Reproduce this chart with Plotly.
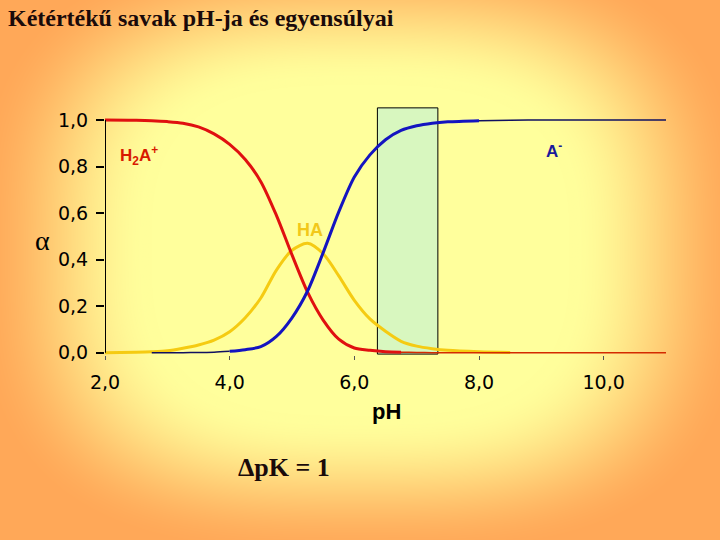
import plotly.graph_objects as go
import numpy as np
import zlib, struct, base64

# ---- data ----
ph = [2.0, 2.5, 2.75, 3.0, 3.25, 3.5, 3.75, 4.0, 4.25, 4.5, 4.75, 5.0, 5.25, 5.5,
      5.75, 6.0, 6.25, 6.5, 6.75, 7.0, 7.25, 7.5, 8.0, 8.5, 9.0, 10.0, 11.0]
alpha_h2a = [1.0, 0.999, 0.997, 0.993, 0.986, 0.97, 0.94, 0.895, 0.83, 0.735, 0.59, 0.42,
             0.26, 0.14, 0.058, 0.02, 0.01, 0.004, 0.002, 0.001, 0.0, 0.0, 0.0, 0.0,
             0.0, 0.0, 0.0]
alpha_ha = [0.0, 0.002, 0.004, 0.008, 0.019, 0.033, 0.054, 0.09, 0.15, 0.235, 0.355, 0.44,
            0.47, 0.425, 0.33, 0.225, 0.145, 0.092, 0.049, 0.028, 0.017, 0.01, 0.004,
            0.001, 0.0, 0.0, 0.0]
alpha_a = [0.0, 0.0, 0.0, 0.0, 0.0, 0.001, 0.002, 0.006, 0.013, 0.026, 0.07, 0.15,
           0.265, 0.43, 0.605, 0.755, 0.85, 0.915, 0.955, 0.975, 0.986, 0.992, 0.997,
           0.999, 1.0, 1.0, 1.0]
x_ticks = [2, 4, 6, 8, 10]
x_ticktext = ["2,0", "4,0", "6,0", "8,0", "10,0"]
y_ticks = [0, 0.2, 0.4, 0.6, 0.8, 1.0]
y_ticktext = ["0,0", "0,2", "0,4", "0,6", "0,8", "1,0"]
buffer_zone = [6.37, 7.34]   # highlighted pH interval

W, H = 720, 540
L, R, T, B = 105, 54, 106, 185
PW, PH_ = W - L - R, H - T - B


def px(x):
    return (x - L) / PW


def py(y):
    return (H - B - y) / PH_


# ---- background gradient (yellow centre -> orange edges) ----
yy, xx = np.mgrid[0:H, 0:W].astype(float)
d = ((np.abs(xx - 360) / 360) ** 3 + (np.abs(yy - 250) / 285) ** 3) ** (1 / 3)
t = np.clip((d - 0.58) / 0.5, 0, 1)
t = t * t * (3 - 2 * t)
c0 = np.array([255, 255, 156], float)
c1 = np.array([255, 168, 88], float)
img = (c0[None, None, :] * (1 - t[..., None]) + c1[None, None, :] * t[..., None]).astype(np.uint8)
raw = b"".join(b"\x00" + img[r].tobytes() for r in range(H))


def chunk(tag, data):
    return struct.pack(">I", len(data)) + tag + data + struct.pack(">I", zlib.crc32(tag + data) & 0xffffffff)


png = (b"\x89PNG\r\n\x1a\n" + chunk(b"IHDR", struct.pack(">IIBBBBB", W, H, 8, 2, 0, 0, 0))
       + chunk(b"IDAT", zlib.compress(raw, 9)) + chunk(b"IEND", b""))
bg_uri = "data:image/png;base64," + base64.b64encode(png).decode()

ph_arr = np.array(ph)


def part(vals, lo, hi):
    m = (ph_arr >= lo) & (ph_arr <= hi)
    return ph_arr[m].tolist(), np.array(vals)[m].tolist()


fig = go.Figure()
line_kw = dict(mode="lines", line_shape="spline", hoverinfo="skip", showlegend=False)

# yellow HA
x, y = part(alpha_ha, 2.0, 8.5)
fig.add_trace(go.Scatter(x=x, y=y, line=dict(color="#F5CB12", width=3, smoothing=0.8), **line_kw))
# red H2A+
x, y = part(alpha_h2a, 6.5, 11.0)
fig.add_trace(go.Scatter(x=x, y=y, line=dict(color="#D42A00", width=1.5, smoothing=0.8), **line_kw))
x, y = part(alpha_h2a, 2.0, 6.75)
fig.add_trace(go.Scatter(x=x, y=y, line=dict(color="#E01010", width=3, smoothing=0.8), **line_kw))
# blue A-
x, y = part(alpha_a, 2.75, 4.0)
fig.add_trace(go.Scatter(x=x, y=y, line=dict(color="#101060", width=1.5, smoothing=0.8), **line_kw))
x, y = part(alpha_a, 8.0, 11.0)
fig.add_trace(go.Scatter(x=x, y=y, line=dict(color="#101060", width=1.5, smoothing=0.8), **line_kw))
x, y = part(alpha_a, 4.0, 8.0)
fig.add_trace(go.Scatter(x=x, y=y, line=dict(color="#1414C0", width=3, smoothing=0.8), **line_kw))

fig.add_shape(type="rect", xref="x", yref="y", x0=buffer_zone[0], x1=buffer_zone[1],
              y0=-0.006, y1=1.052, fillcolor="rgba(190,242,215,0.6)",
              line=dict(color="black", width=1), layer="below")
# y axis line from 0 to 1
fig.add_shape(type="line", xref="x", yref="y", x0=2.0, x1=2.0, y0=0, y1=1,
              line=dict(color="black", width=2), layer="above")

fig.add_layout_image(dict(source=bg_uri, xref="paper", yref="paper", x=px(0), y=py(0),
                          sizex=W / PW, sizey=H / PH_, xanchor="left", yanchor="top",
                          sizing="stretch", layer="below"))

ann = [
    dict(text="<b>Kétértékű savak pH-ja és egyensúlyai</b>", x=px(6), y=py(18), xanchor="left",
         font=dict(family="Liberation Serif", size=24, color="#1A0A0A")),
    dict(text="<b>ΔpK = 1</b>", x=px(284), y=py(468), xanchor="center",
         font=dict(family="Liberation Serif", size=26, color="#1A0A0A")),
    dict(text="α", x=px(42), y=py(240), xanchor="center",
         font=dict(family="Liberation Serif", size=28, color="black")),
    dict(text="<b>pH</b>", x=px(386), y=py(411), xanchor="center",
         font=dict(family="Liberation Sans", size=22, color="black")),
    dict(text="<b>H<sub>2</sub>A<sup>+</sup></b>", x=px(139), y=py(155), xanchor="center",
         font=dict(family="Liberation Sans", size=17, color="#D81A00")),
    dict(text="<b>HA</b>", x=px(310), y=py(230), xanchor="center",
         font=dict(family="Liberation Sans", size=18, color="#F2C81A")),
    dict(text="<b>A<sup>-</sup></b>", x=px(554), y=py(150), xanchor="center",
         font=dict(family="Liberation Sans", size=17, color="#1A1A9A")),
]
for a in ann:
    a.update(xref="paper", yref="paper", yanchor="middle", showarrow=False)
    fig.add_annotation(**a)

fig.update_layout(
    width=W, height=H, margin=dict(l=L, r=R, t=T, b=B, pad=0),
    paper_bgcolor="#FFC878", plot_bgcolor="rgba(0,0,0,0)", showlegend=False,
    xaxis=dict(range=[2.0, 11.0], tickvals=x_ticks, ticktext=x_ticktext, showgrid=False,
               zeroline=False, showline=False, ticks="outside", ticklen=4, tickcolor="#555",
               tickfont=dict(family="DejaVu Sans", size=19, color="black"), ticklabelstandoff=6),
    yaxis=dict(range=[-0.01, 1.06], tickvals=y_ticks, ticktext=y_ticktext, showgrid=False,
               zeroline=False, showline=False, ticks="outside", ticklen=8, tickwidth=2,
               tickcolor="black", tickfont=dict(family="DejaVu Sans", size=19, color="black"),
               ticklabelstandoff=4),
)

fig.write_html("out.html", config={"displayModeBar": False},
               post_script="document.body.style.margin='0';document.body.style.overflow='hidden';")
